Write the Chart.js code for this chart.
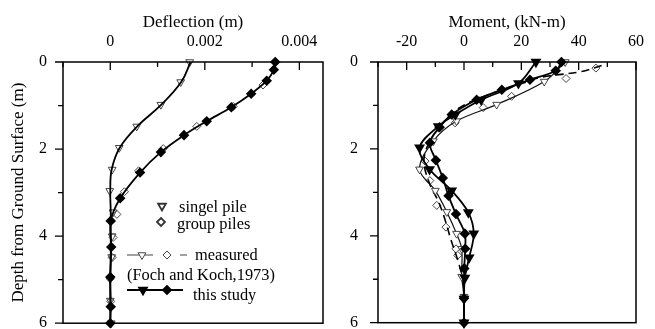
<!DOCTYPE html>
<html>
<head>
<meta charset="utf-8">
<script src="https://cdn.jsdelivr.net/npm/chart.js@4.4.1/dist/chart.umd.min.js"></script>
<style>
  html,body{margin:0;padding:0;background:#fff;}
  #wrap{position:relative;width:655px;height:329px;overflow:hidden;}
  #p1{position:absolute;left:0;top:0;}
  #p2{position:absolute;left:330px;top:0;}
</style>
</head>
<body>
<div id="wrap">
  <canvas id="p1" width="330" height="329"></canvas>
  <canvas id="p2" width="325" height="329"></canvas>
</div>
<script>
// ---------- Left panel: deflection (m) vs depth (m) ----------
const leftSingleDepth    = [0, 0.46, 0.98, 1.48, 1.97, 2.47, 2.96, 3.45, 4.0, 4.48, 4.98, 5.48, 6.0];
const leftSingleMeasured = [0.00168, 0.00149, 0.00107, 0.00056, 0.00019, 0.00004, -0.00001, 0.00006, 0.00004, 0.00003, 0.0, 0.0, 0.00002];
const leftSingleStudy    = [0.0017, 0.0015, 0.00108, 0.00057, 0.0002, 0.00003, 0.0, 0.00001, 0.00001, 0.00001, 0.0, 0.0, 0.0];

const leftGroupStudyDepth = [0, 0.18, 0.43, 0.73, 1.04, 1.36, 1.68, 2.07, 2.54, 3.13, 3.65, 4.25, 4.94, 5.62, 6.0];
const leftGroupStudy      = [0.00349, 0.00346, 0.00331, 0.00298, 0.00256, 0.00204, 0.00156, 0.00107, 0.00063, 0.00021, 0.00001, 0.00002, 0.0, 0.00001, 0.0];

const leftGroupMeasuredDepth = [0.53, 1.02, 1.48, 1.99, 2.5, 2.98, 3.5, 4.03, 4.49, 4.98, 5.5];
const leftGroupMeasured      = [0.00323, 0.0026, 0.00183, 0.00112, 0.0006, 0.0003, 0.00014, 0.00006, 0.00004, 0.0, 0.00001];

// ---------- Right panel: moment (kN-m) vs depth (m) ----------
const rightSingleStudyDepth = [0, 0.49, 0.87, 1.21, 1.48, 1.97, 2.47, 2.96, 3.46, 3.95, 4.5, 4.97, 5.45, 6.0];
const rightSingleStudy      = [25.1, 19, 6, -3, -9, -15.5, -12, -4.3, 1.5, 3.4, 1.8, 0.3, 0, 0];

const rightGroupStudyDepth = [0, 0.2, 0.41, 0.64, 0.87, 1.21, 1.5, 1.86, 2.26, 2.67, 3.08, 3.5, 3.95, 4.3, 4.75, 5.44, 6.0];
const rightGroupStudy      = [34, 32, 23, 13.2, 4.4, -4.3, -8.5, -11.9, -9.8, -7.4, -5.4, -2.8, 0.3, 0.4, 0.1, 0, 0];

const rightSingleMeasuredDepth = [0, 0.45, 0.98, 1.36, 1.82, 2.47, 2.96, 3.45, 3.95, 4.3, 4.94, 5.4, 6.0];
const rightSingleMeasured      = [35.3, 28, 11.4, -2.6, -10.7, -15.5, -10, -6, -2.6, -0.8, -0.8, 0, 0];

const rightGroupLineDepth = [0.08, 0.22, 0.35, 0.5, 0.74, 1.05, 1.45, 1.9, 2.3, 2.8, 3.2, 3.55, 4.1, 4.6, 5.0, 5.5, 6.0];
const rightGroupLine      = [48, 41, 27, 20, 9, -1.5, -8, -12.5, -14, -12, -9, -7, -4.5, -2, -0.5, 0, 0];

const rightGroupMeasuredDepth = [0.14, 0.38, 0.79, 1.05, 1.4, 2.28, 2.73, 3.3, 3.8, 4.3, 4.45, 5.42];
const rightGroupMeasured      = [46, 35.6, 16.6, 6.7, -3.1, -13.6, -11.9, -9.5, -6.3, -2.8, -2.2, 0];

// ---------- Axis tick labels ----------
const depthTickLabels      = [0, 2, 4, 6];
const deflectionTickLabels = [0, 0.002, 0.004];
const momentTickLabels     = [-20, 0, 20, 40, 60];

// ---------- helpers ----------
const pairs = (xs, ds) => xs.map((v, i) => ({ x: v, y: ds[i] }));
const near = (v, list, tol) => list.some(l => Math.abs(l - v) < tol);

const FAM = "'Liberation Serif', 'Times New Roman', serif";
Chart.defaults.font.family = FAM;
Chart.defaults.font.size = 16;
Chart.defaults.color = '#000';

const FONT = { family: FAM, size: 16 };
const TFONT = { family: FAM, size: 17 };

// frame + tick marks
const frameTicks = {
  id: 'frameTicks',
  afterDraw(chart) {
    const { ctx, chartArea: a, scales: { x, y } } = chart;
    ctx.save();
    ctx.strokeStyle = '#000';
    ctx.lineWidth = 1.5;
    ctx.strokeRect(a.left, a.top, a.right - a.left, a.bottom - a.top);
    ctx.lineWidth = 1.3;
    ctx.beginPath();
    x.ticks.forEach(t => {
      const px = x.getPixelForValue(t.value);
      const len = t.label !== '' ? 8 : 5;
      ctx.moveTo(px, a.top); ctx.lineTo(px, a.top + len);
    });
    y.ticks.forEach(t => {
      const py = y.getPixelForValue(t.value);
      const len = t.label !== '' ? 8 : 5;
      ctx.moveTo(a.left - len, py); ctx.lineTo(a.left, py);
    });
    ctx.stroke();
    ctx.restore();
  }
};

// legend drawn inside the left panel
const legendPlugin = {
  id: 'customLegend',
  afterDraw(chart) {
    const ctx = chart.ctx;
    const dp = Chart.helpers.drawPoint;
    ctx.save();
    ctx.font = "16.4px " + FAM;
    ctx.fillStyle = '#000';
    ctx.textBaseline = 'middle';
    ctx.textAlign = 'left';
    const openStyle = (style, r, rot) => ({ pointStyle: style, radius: r, rotation: rot, borderWidth: 1 });
    // row 1
    ctx.strokeStyle = '#333'; ctx.fillStyle = '#fff';
    dp(ctx, openStyle('triangle', 4.5, 180), 162, 206);
    ctx.fillStyle = '#000';
    ctx.fillText('singel pile', 179, 208);
    // row 2
    ctx.strokeStyle = '#333'; ctx.fillStyle = '#fff';
    dp(ctx, openStyle('rectRot', 4, 0), 161, 222);
    ctx.fillStyle = '#000';
    ctx.fillText('group piles', 177, 225);
    // row 3 measured
    ctx.strokeStyle = '#444'; ctx.lineWidth = 1;
    ctx.beginPath(); ctx.moveTo(127, 255); ctx.lineTo(153, 255); ctx.stroke();
    ctx.beginPath(); ctx.moveTo(180, 255); ctx.lineTo(187, 255); ctx.stroke();
    ctx.fillStyle = '#fff';
    dp(ctx, openStyle('triangle', 4.5, 180), 142, 255);
    dp(ctx, openStyle('rectRot', 4, 0), 167, 255);
    ctx.fillStyle = '#000';
    ctx.fillText('measured', 195, 256);
    ctx.fillText('(Foch and Koch,1973)', 127, 276);
    // row 5 this study
    ctx.strokeStyle = '#000'; ctx.lineWidth = 1.8;
    ctx.beginPath(); ctx.moveTo(127, 290); ctx.lineTo(183, 290); ctx.stroke();
    ctx.fillStyle = '#000';
    dp(ctx, { pointStyle: 'triangle', radius: 4.5, rotation: 180, borderWidth: 1 }, 143, 290);
    dp(ctx, { pointStyle: 'rectRot', radius: 4, rotation: 0, borderWidth: 1 }, 167, 290);
    ctx.fillText('this study', 193, 296);
    ctx.restore();
  }
};

function depthScale(withTitle, pad) {
  return {
    type: 'linear', position: 'left', reverse: true, min: 0, max: 6,
    grid: { display: false, drawTicks: false },
    border: { display: false },
    ticks: {
      stepSize: 1, autoSkip: false, includeBounds: false, padding: pad, font: FONT, color: '#000',
      callback: v => near(v, depthTickLabels, 1e-6) ? String(Math.round(v)) : ''
    },
    title: withTitle ? { display: true, text: 'Depth from Ground Surface (m)', font: TFONT, color: '#000', padding: { top: 8, bottom: 0 } } : { display: false },
    afterFit: s => { s.width = withTitle ? 63 : 48; s.paddingTop = 0; s.paddingBottom = 0; }
  };
}

function topScale(min, max, step, labels, fmt, titleText) {
  return {
    type: 'linear', position: 'top', min: min, max: max,
    grid: { display: false, drawTicks: false },
    border: { display: false },
    ticks: {
      stepSize: step, autoSkip: false, includeBounds: false, padding: 11, maxRotation: 0, font: FONT, color: '#000',
      callback: v => near(v, labels, step * 1e-4) ? fmt(v) : ''
    },
    title: { display: true, text: titleText, font: TFONT, color: '#000', padding: { top: 12, bottom: 0 } },
    afterFit: s => { s.height = 62; s.paddingLeft = 0; s.paddingRight = 0; }
  };
}

// ---------- Left chart ----------
new Chart(document.getElementById('p1'), {
  type: 'scatter',
  data: {
    datasets: [
      { data: pairs(leftGroupStudy, leftGroupStudyDepth), showLine: true, tension: 0.35,
        borderColor: '#000', borderWidth: 1.8, pointStyle: 'rectRot', pointRadius: 4,
        backgroundColor: '#000', pointBorderColor: '#000', clip: false },
      { data: pairs(leftSingleStudy, leftSingleDepth), showLine: true, tension: 0.4,
        borderColor: '#000', borderWidth: 1.8, pointRadius: 0, clip: false },
      { data: pairs(leftSingleMeasured, leftSingleDepth), showLine: false,
        pointStyle: 'triangle', rotation: 180, pointRadius: 4.5, pointBorderWidth: 1,
        pointBorderColor: '#444', backgroundColor: 'rgba(255,255,255,0)', clip: false },
      { data: pairs(leftGroupMeasured, leftGroupMeasuredDepth), showLine: false,
        pointStyle: 'rectRot', pointRadius: 4, pointBorderWidth: 1,
        pointBorderColor: '#444', backgroundColor: '#fff', clip: false }
    ]
  },
  options: {
    responsive: false, animation: false, devicePixelRatio: 1,
    layout: { padding: { left: 0, top: 0, right: 7, bottom: 4.5 } },
    plugins: { legend: { display: false }, tooltip: { enabled: false } },
    scales: {
      x: topScale(-0.001, 0.0045, 0.001, deflectionTickLabels, v => String(Math.round(v * 1000) / 1000), 'Deflection (m)'),
      y: depthScale(true, 16)
    }
  },
  plugins: [frameTicks, legendPlugin]
});

// ---------- Right chart ----------
new Chart(document.getElementById('p2'), {
  type: 'scatter',
  data: {
    datasets: [
      { data: pairs(rightSingleStudy, rightSingleStudyDepth), showLine: true, tension: 0.35,
        borderColor: '#000', borderWidth: 1.8, pointStyle: 'triangle', rotation: 180, pointRadius: 4.5,
        backgroundColor: '#000', pointBorderColor: '#000', clip: false },
      { data: pairs(rightGroupStudy, rightGroupStudyDepth), showLine: true, tension: 0.35,
        borderColor: '#000', borderWidth: 1.8, pointStyle: 'rectRot', pointRadius: 4,
        backgroundColor: '#000', pointBorderColor: '#000', clip: false },
      { data: pairs(rightSingleMeasured, rightSingleMeasuredDepth), showLine: true, tension: 0.35,
        borderColor: '#111', borderWidth: 1.2, pointStyle: 'triangle', rotation: 180, pointRadius: 4.5,
        pointBorderWidth: 1, pointBorderColor: '#444', backgroundColor: '#fff', clip: false },
      { data: pairs(rightGroupLine, rightGroupLineDepth), showLine: true, tension: 0.35,
        borderColor: '#000', borderWidth: 1.6, borderDash: [8, 5], pointRadius: 0, clip: false },
      { data: pairs(rightGroupMeasured, rightGroupMeasuredDepth), showLine: false,
        pointStyle: 'rectRot', pointRadius: 4, pointBorderWidth: 1,
        pointBorderColor: '#444', backgroundColor: '#fff', clip: false }
    ]
  },
  options: {
    responsive: false, animation: false, devicePixelRatio: 1,
    layout: { padding: { left: 0, top: 0, right: 19, bottom: 4.5 } },
    plugins: { legend: { display: false }, tooltip: { enabled: false } },
    scales: {
      x: topScale(-30, 60, 10, momentTickLabels, v => String(Math.round(v)), 'Moment, (kN-m)'),
      y: depthScale(false, 20)
    }
  },
  plugins: [frameTicks]
});
</script>
</body>
</html>
